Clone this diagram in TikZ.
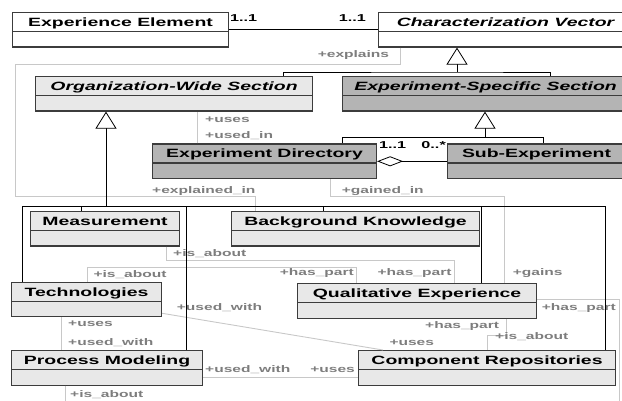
\documentclass[tikz,border=0pt]{standalone}
\usepackage{fontspec}
\setmainfont{Liberation Sans}[FakeStretch=1.62]
\usepackage{tikz}
\usetikzlibrary{arrows.meta,calc}
\definecolor{lightfill}{RGB}{232,232,232}
\definecolor{darkfill}{RGB}{180,180,180}
\definecolor{boxline}{RGB}{60,60,60}
\definecolor{assocgray}{RGB}{200,200,200}
\definecolor{labelgray}{RGB}{125,125,125}
\tikzstyle{classbox} = [draw=boxline, line width=1.1pt, rectangle, anchor=north west, minimum height=34.5pt, inner sep=0pt]
\tikzstyle{classname} = [font=\fontsize{12}{14}\selectfont\bfseries, inner sep=0pt, anchor=base]
\tikzstyle{assoc} = [draw=assocgray, line width=0.9pt]
\tikzstyle{tree} = [draw=black, line width=0.8pt]
\tikzstyle{inherit} = [tree, -{Triangle[open, width=21pt, length=17pt, fill=white]}]
\tikzstyle{aggr} = [tree, {Diamond[open, length=26pt, width=10pt, fill=white]}-]
\tikzstyle{role} = [text=labelgray, font=\fontsize{9.6}{11}\selectfont\bfseries, inner sep=0pt]
\tikzstyle{mult} = [text=black, font=\fontsize{10}{12}\selectfont\bfseries, inner sep=0pt]

% class box: name, fill, left, top, right, title
\newcommand{\umlclass}[6]{%
  \node[classbox, fill=#2, minimum width={#5pt-#3pt}] (#1) at (#3,#4) {};
  \draw[boxline, line width=1.1pt] ([yshift=-19.5pt]#1.north west) -- ([yshift=-19.5pt]#1.north east);
  \node[classname] (#1-name) at ([yshift=-14.5pt]#1.north) {#6};
}

\begin{document}
\begin{tikzpicture}[x=1pt, y=-1pt]
\useasboundingbox (0,0) rectangle (622,401);
\clip (0,0) rectangle (622,401);

% classes
\umlclass{ee}{white}{12}{12}{228}{Experience Element}
\umlclass{cv}{white}{378}{12}{632}{\itshape Characterization Vector}
\umlclass{ows}{lightfill}{35}{76}{312}{\itshape Organization-Wide Section}
\umlclass{ess}{darkfill}{342}{76}{628}{\itshape Experiment-Specific Section}
\umlclass{expdir}{darkfill}{152}{143.5}{376}{Experiment Directory}
\umlclass{subexp}{darkfill}{447}{143.5}{625}{Sub-Experiment}
\umlclass{meas}{lightfill}{30}{211}{179}{Measurement}
\umlclass{bk}{lightfill}{231}{211}{479}{Background Knowledge}
\umlclass{tech}{lightfill}{11}{281.7}{161}{Technologies}
\umlclass{qe}{lightfill}{297}{283.3}{536}{Qualitative Experience}
\umlclass{pm}{lightfill}{11}{350}{202}{Process Modeling}
\umlclass{cr}{lightfill}{358}{350}{615}{Component Repositories}

% bends
\coordinate (genCV) at (457,72);
\coordinate (genESS) at (485,137.5);
\coordinate (genOWS) at (106,206.7);
\coordinate (explA) at (15,64);
\coordinate (explB) at (15,196);
\coordinate (gainBend) at (504,196.7);
\coordinate (measBend) at (454,260);
\coordinate (techBend) at (356.7,267.3);
\coordinate (qcBend) at (487.3,335);
\coordinate (pmOut) at (65,410);
\coordinate (qeOut) at (619.3,410);

% associations
\draw[assoc] ([xshift=22pt]cv.south west) |- (explA) -- (explB) -| ([xshift=24pt]bk.north west);
\draw[assoc] ([xshift=45.5pt]expdir.north west) coordinate (usesEnd) -- (usesEnd |- ows.south);
\draw[assoc] ([xshift=178.7pt]expdir.south west) |- (gainBend) -- (gainBend |- qe.north);
\draw[assoc] ([xshift=136.7pt]meas.south west) |- (measBend) -- (measBend |- qe.north);
\draw[assoc] ([xshift=76.3pt]tech.north west) |- (techBend) -- (techBend |- qe.north);
\draw[assoc] ([yshift=4pt]tech.south east) -- ([xshift=25pt]cr.north west);
\draw[assoc] ([xshift=50pt]tech.south west) coordinate (tpEnd) -- (tpEnd |- pm.north);
\draw[assoc] ([yshift=8pt]pm.south east) -- ([yshift=8pt]cr.south west);
\draw[assoc] ([xshift=54pt]pm.south west) -- (pmOut);
\draw[assoc] ([yshift=2pt]qe.east) -| (qeOut);
\draw[assoc] ([xshift=209pt]qe.south west) |- (qcBend) -- (qcBend |- cr.north);

% role names
\node[role, anchor=base east] (rExplains) at (389.3,57.3) {+explains};
\node[role, anchor=base west] (rExplainedIn) at (152,194) {+explained\_in};
\node[role, anchor=base west] (rUses) at (205,122.3) {+uses};
\node[role, anchor=base west] (rUsedIn) at (205,138.3) {+used\_in};
\node[role, anchor=base west] (rGainedIn) at (341.7,193.3) {+gained\_in};
\node[role, anchor=base west] (rGains) at (512.7,276) {+gains};
\node[role, anchor=base west] (rMeasAbout) at (173,256.3) {+is\_about};
\node[role, anchor=base east] (rMeasPart) at (451.7,275.7) {+has\_part};
\node[role, anchor=base west] (rTechAbout) at (93.3,277.7) {+is\_about};
\node[role, anchor=base east] (rTechPart) at (354,275.7) {+has\_part};
\node[role, anchor=base west] (rTechWith) at (176.7,310.3) {+used\_with};
\node[role, anchor=base west] (rCrUses) at (389.3,345) {+uses};
\node[role, anchor=base west] (rTpUses) at (68,326.7) {+uses};
\node[role, anchor=base west] (rTpWith) at (68,345.7) {+used\_with};
\node[role, anchor=base west] (rPmWith) at (205,372.7) {+used\_with};
\node[role, anchor=base east] (rPmUses) at (355,372.7) {+uses};
\node[role, anchor=base west] (rPmAbout) at (70,397.3) {+is\_about};
\node[role, anchor=base west] (rQePart) at (541.7,310.7) {+has\_part};
\node[role, anchor=base east] (rQcPart) at (499.3,328.3) {+has\_part};
\node[role, anchor=base west] (rQcAbout) at (495,339.3) {+is\_about};

% multiplicities
\node[mult, anchor=base west] (mEe) at (230,21.7) {1..1};
\node[mult, anchor=base east] (mCv) at (366,21.7) {1..1};
\node[mult, anchor=base west] (mDir) at (379,148.3) {1..1};
\node[mult, anchor=base east] (mSub) at (446,148.3) {0..*};

% generalizations and aggregation
\draw[tree] (ee.east) -- (cv.west);
\draw[aggr] (expdir.east) -- (subexp.west);
\draw[inherit] (genCV) -- (genCV |- cv.south);
\draw[tree] ([xshift=-30pt]ows.north east) |- (genCV) -| ([xshift=208pt]ess.north west);
\draw[inherit] (genESS) -- (genESS |- ess.south);
\draw[tree] ([xshift=190pt]expdir.north west) |- (genESS) -| ([xshift=96pt]subexp.north west);
\draw[inherit] (genOWS) -- (genOWS |- ows.south);
\draw[tree] ([xshift=11.7pt]tech.north west) |- (genOWS) -| ([xshift=247pt]cr.north west);
\foreach \cls/\dx in {meas/51.7, pm/175.7, bk/92.3, qe/184.7}
  \draw[tree] ([xshift=\dx pt]\cls.north west) |- (genOWS);
\end{tikzpicture}
\end{document}
